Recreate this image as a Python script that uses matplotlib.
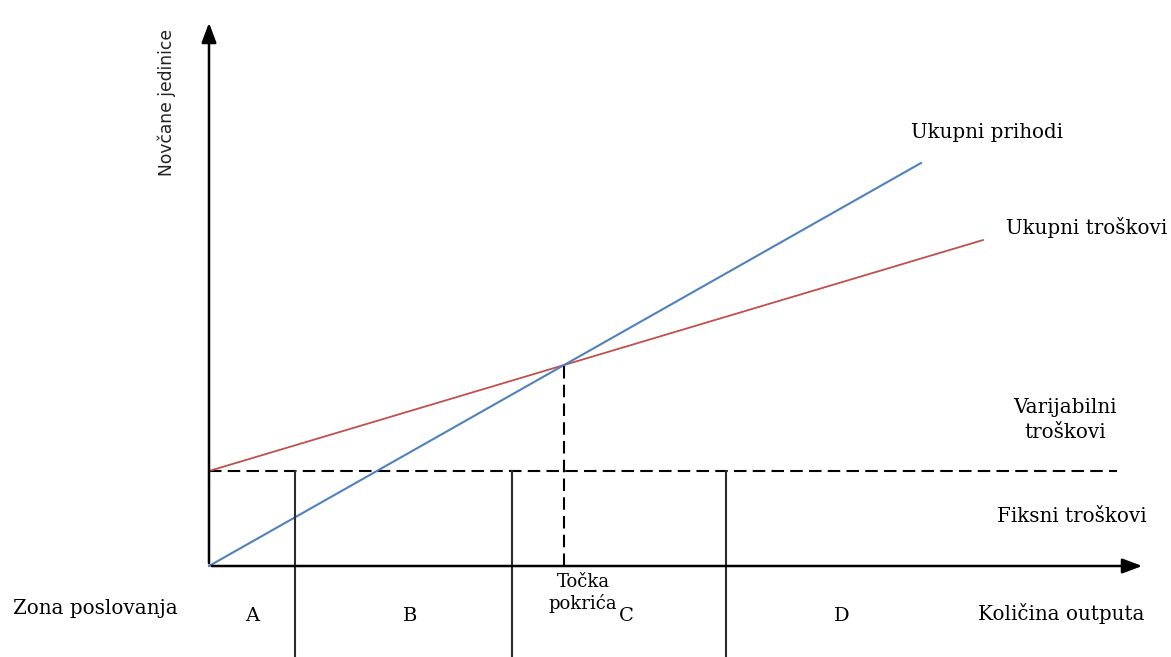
import numpy as np
import matplotlib.pyplot as plt

# quantities in chart units (origin = zero output, zero money)
x_max = 936          # end of the output axis
y_max = 546          # end of the money axis
fixed_cost = 95      # fixed costs level
cost_end = 774       # where the cost line stops
cost_slope = 0.2984  # variable cost per unit
rev_end = 712        # where the revenue line stops
rev_slope = 0.566    # price per unit
fixed_line_end = 908
zone_edges = [86, 303, 517]
zone_names = ['A', 'B', 'C', 'D']
zone_label_x = [43, 201, 417, 633]

fig = plt.figure(figsize=(11.71, 6.57), dpi=100)
ax = fig.add_axes([0, 0, 1, 1])
ax.set_xlim(-209, 962)
ax.set_ylim(-91, 566)
ax.axis('off')

serif = ['DejaVu Serif']
axc = '#2b2b2b'

# axes with arrows
ax.annotate('', xy=(0, y_max), xytext=(0, 0),
            arrowprops=dict(arrowstyle='-|>,head_length=1.2,head_width=0.45', color='black', lw=1.8))
ax.annotate('', xy=(x_max, 0), xytext=(0, 0),
            arrowprops=dict(arrowstyle='-|>,head_length=1.2,head_width=0.45', color='black', lw=1.8))

# fixed costs
ax.plot([0, fixed_line_end], [fixed_cost, fixed_cost], color='black', lw=1.5, dashes=(6, 3))

# total cost and revenue
xc = np.array([0, cost_end])
ax.plot(xc, fixed_cost + cost_slope * xc, color='#c0504d', lw=1.3)
xr = np.array([0, rev_end])
ax.plot(xr, rev_slope * xr, color='#4f81bd', lw=1.5)

# break-even
be_x = fixed_cost / (rev_slope - cost_slope)
be_y = rev_slope * be_x
ax.plot([be_x, be_x], [0, be_y], color='black', lw=1.5, dashes=(6, 3))

# zone borders
for e in zone_edges:
    ax.plot([e, e], [fixed_cost, -91], color=axc, lw=1.5)

for name, zx in zip(zone_names, zone_label_x):
    ax.text(zx, -50, name, ha='center', va='center', fontsize=14, family=serif)

fs = 14.3
ax.text(-42, 464, 'Novčane jedinice', rotation=90, ha='center', va='center',
        fontsize=12.3, family=['Liberation Sans Narrow', 'DejaVu Sans'], color='#222222')
ax.text(702, 433, 'Ukupni prihodi', ha='left', va='center', fontsize=fs, family=serif)
ax.text(797, 339, 'Ukupni troškovi', ha='left', va='center', fontsize=fs, family=serif)
ax.text(856, 146, 'Varijabilni\ntroškovi', ha='center', va='center', fontsize=fs,
        family=serif, linespacing=1.45)
ax.text(788, 49, 'Fiksni troškovi', ha='left', va='center', fontsize=fs, family=serif)
ax.text(936, -47, 'Količina outputa', ha='right', va='center', fontsize=fs, family=serif)
ax.text(-196, -43, 'Zona poslovanja', ha='left', va='center', fontsize=fs, family=serif)
ax.text(374, -27, 'Točka\npokrića', ha='center', va='center', fontsize=13,
        family=serif, linespacing=1.15)

fig.savefig('out.png', dpi=100)
